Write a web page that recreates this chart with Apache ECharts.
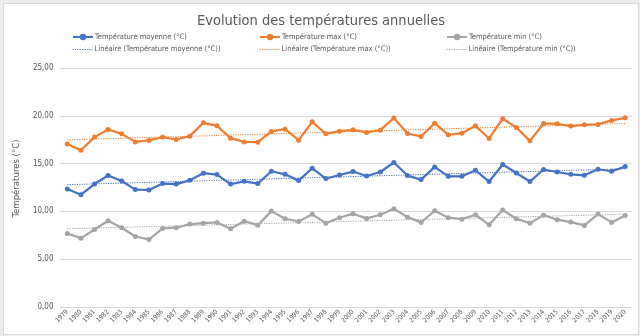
<!DOCTYPE html>
<html>
<head>
<meta charset="utf-8">
<script src="https://cdn.jsdelivr.net/npm/echarts@6/dist/echarts.min.js"></script>
<style>
  html, body { margin: 0; padding: 0; background: #ececec; }
  #chart { position: absolute; left: 3px; top: 3px; width: 634px; height: 330px; background: #fff; border: 1px solid #d9d9d9; }
</style>
</head>
<body>
<div id="chart"></div>
<script>
// Années de 1979 à 2020
const years = [];
for (let y = 1979; y <= 2020; y++) years.push(String(y));

// Températures annuelles (°C)
const tMoyenne = [12.34, 11.75, 12.86, 13.75, 13.18, 12.28, 12.24, 12.91, 12.86, 13.25, 14.00,
  13.85, 12.86, 13.15, 12.91, 14.20, 13.88, 13.22, 14.51, 13.43, 13.81,
  14.17, 13.70, 14.12, 15.11, 13.75, 13.33, 14.65, 13.67, 13.67, 14.30,
  13.12, 14.90, 14.02, 13.12, 14.38, 14.12, 13.88, 13.78, 14.41, 14.20, 14.69];
const tMax = [17.06, 16.40, 17.77, 18.57, 18.11, 17.27, 17.42, 17.77, 17.52, 17.87, 19.27,
  18.95, 17.66, 17.27, 17.24, 18.36, 18.60, 17.45, 19.37, 18.11, 18.39,
  18.53, 18.26, 18.50, 19.76, 18.15, 17.84, 19.23, 18.01, 18.18, 18.95,
  17.63, 19.69, 18.78, 17.38, 19.20, 19.16, 18.92, 19.06, 19.10, 19.52, 19.79];
const tMin = [7.69, 7.20, 8.11, 9.02, 8.29, 7.38, 7.06, 8.22, 8.29, 8.67, 8.77,
  8.85, 8.18, 8.98, 8.56, 10.03, 9.23, 8.95, 9.69, 8.77, 9.34,
  9.76, 9.27, 9.65, 10.28, 9.40, 8.85, 10.07, 9.34, 9.19, 9.65,
  8.60, 10.14, 9.23, 8.77, 9.61, 9.13, 8.88, 8.53, 9.72, 8.85, 9.58];

const yTicks = { min: 0, max: 25, interval: 5 };

const names = ['Température moyenne (°C)', 'Température max (°C)', 'Température min (°C)'];
const trendNames = names.map(n => 'Linéaire (' + n + ')');
const colors = ['#4472C4', '#ED7D31', '#A5A5A5'];

// Droite des moindres carrés sur l'indice de l'année
function linearTrend(arr) {
  const n = arr.length;
  let sx = 0, sy = 0, sxx = 0, sxy = 0;
  arr.forEach((v, i) => { sx += i; sy += v; sxx += i * i; sxy += i * v; });
  const slope = (n * sxy - sx * sy) / (n * sxx - sx * sx);
  const icpt = (sy - slope * sx) / n;
  return arr.map((_, i) => +(icpt + slope * i).toFixed(3));
}

const font = '"DejaVu Sans Condensed", "Liberation Sans", sans-serif';
const txt = '#595959';

const dataSets = [tMoyenne, tMax, tMin];
const series = [];
dataSets.forEach((d, k) => {
  series.push({
    name: names[k], type: 'line', data: d,
    symbol: 'circle', symbolSize: 5,
    itemStyle: { color: colors[k] },
    lineStyle: { color: colors[k], width: 2.25 },
    z: 3
  });
});
dataSets.forEach((d, k) => {
  series.push({
    name: trendNames[k], type: 'line', data: linearTrend(d),
    symbol: 'none',
    itemStyle: { color: colors[k] },
    lineStyle: { color: colors[k], width: 1, type: [1.2, 1.2] },
    z: 4
  });
});

const colX = [68, 255, 442];
const legends = [];
names.forEach((n, k) => legends.push({ data: [n], left: colX[k], top: 29 }));
// Icône des tendances : seulement le trait pointillé, sans marqueur
trendNames.forEach((n, k) => legends.push({
  data: [n], left: colX[k], top: 41.5,
  itemStyle: { opacity: 0 },
  lineStyle: { color: colors[k], width: 1, type: [1.2, 1.2] }
}));
legends.forEach(l => Object.assign(l, {
  itemWidth: 20, itemHeight: 8, itemGap: 2, padding: 0,
  textStyle: { color: txt, fontSize: 7.5, fontFamily: font, padding: [0, 0, 0, -3] }
}));

const chart = echarts.init(document.getElementById('chart'));
chart.setOption({
  animation: false,
  title: {
    text: 'Evolution des températures annuelles',
    left: 'center', top: 5,
    textStyle: { color: txt, fontSize: 14.5, fontWeight: 'normal', fontFamily: font }
  },
  legend: legends,
  grid: { left: 50, right: 6, top: 64, bottom: 27 },
  xAxis: {
    type: 'category', data: years, boundaryGap: true,
    axisLine: { lineStyle: { color: '#d9d9d9' } },
    axisTick: { show: false },
    axisLabel: { rotate: 45, interval: 0, fontSize: 6.5, color: txt, fontFamily: font, margin: 4 }
  },
  yAxis: {
    type: 'value', min: yTicks.min, max: yTicks.max, interval: yTicks.interval,
    name: 'Températures (°C)', nameLocation: 'middle', nameGap: 33,
    nameTextStyle: { color: txt, fontSize: 9.5, fontFamily: font, padding: [0, 0, 0, 18] },
    axisLine: { show: false }, axisTick: { show: false },
    splitLine: { lineStyle: { color: '#d9d9d9' } },
    axisLabel: { color: txt, fontSize: 8, fontFamily: font, margin: 7,
      formatter: v => v.toFixed(2).replace('.', ',') }
  },
  series: series
});
</script>
</body>
</html>
